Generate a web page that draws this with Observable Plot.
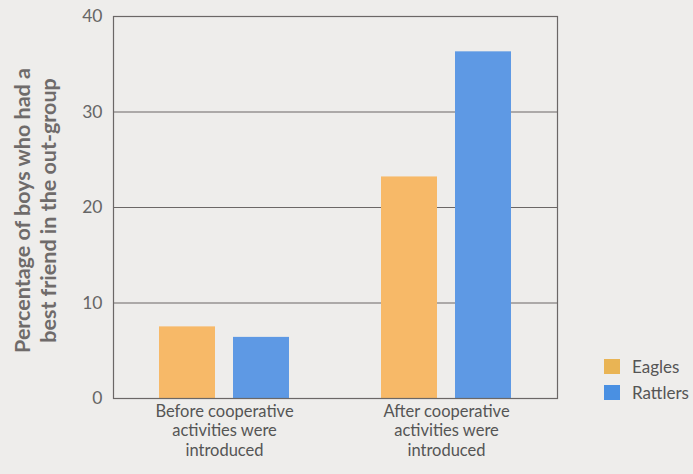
<!DOCTYPE html>
<html>
<head>
<meta charset="utf-8">
<script src="https://cdn.jsdelivr.net/npm/d3@7"></script>
<script src="https://cdn.jsdelivr.net/npm/@observablehq/plot@0.6"></script>
<style>
  html, body { margin: 0; padding: 0; background: #eeedeb; }
  #wrap { position: relative; width: 693px; height: 474px; font-family: Lato, sans-serif; }
  #legend { position: absolute; left: 604px; top: 353px; font-size: 17px; color: #555; }
  #legend .item { display: flex; align-items: center; height: 26px; }
  #legend .sw { width: 16px; height: 15px; margin-right: 12px; }
</style>
</head>
<body>
<div id="wrap"><div id="chart"></div><div id="legend"></div></div>
<script>
const groups = ["Before", "After"];
const groupLabels = ["Before cooperative\nactivities were\nintroduced", "After cooperative\nactivities were\nintroduced"];
const series = ["Eagles", "Rattlers"];
const eagles = [7.5, 23.2];
const rattlers = [6.4, 36.3];
const yTicks = [0, 10, 20, 30, 40];
const gridValues = [10, 20, 30, 40];
const colors = ["#f7b968", "#5e99e4"];
const swatchColors = ["#e9b454", "#4a90e2"];
const yLabel = "Percentage of boys who had a\nbest friend in the out-group";

const data = [];
groups.forEach((g, i) => {
  data.push({group: g, series: series[0], value: eagles[i]});
  data.push({group: g, series: series[1], value: rattlers[i]});
});

const chart = Plot.plot({
  width: 693,
  height: 474,
  marginLeft: 112,
  marginRight: 136,
  marginTop: 16,
  marginBottom: 76,
  style: {background: "transparent", fontFamily: "Lato, sans-serif"},
  fx: {domain: groups, padding: 0, label: null},
  x: {domain: series, paddingInner: 0.25, paddingOuter: 0.61, axis: null},
  y: {domain: [0, 40], label: null},
  color: {domain: series, range: colors},
  marks: [
    Plot.ruleY(gridValues, {stroke: "#6b6766", strokeWidth: 1.2}),
    Plot.barY(data, {fx: "group", x: "series", y: "value", fill: "series"}),
    Plot.frame({stroke: "#6b6766", strokeWidth: 1.2, facet: "super"}),
    Plot.axisY(yTicks, {tickSize: 0, tickPadding: 11, fontSize: 17.5, fill: "#666", label: null}),
    Plot.axisFx({anchor: "bottom", tickSize: 0, tickPadding: 4, fontSize: 16.5, fill: "#555", lineAnchor: "top", lineHeight: 1.2,
      tickFormat: d => groupLabels[groups.indexOf(d)], label: null}),
    Plot.text([yLabel], {facet: "super", frameAnchor: "left", dx: -79, dy: 3, rotate: -90, fontSize: 21.5, fontWeight: 700,
      fill: "#6f6b6a", textAnchor: "middle", lineAnchor: "middle", lineHeight: 1.2})
  ]
});
document.getElementById("chart").appendChild(chart);

const legend = document.getElementById("legend");
series.forEach((s, i) => {
  const item = document.createElement("div");
  item.className = "item";
  const sw = document.createElement("div");
  sw.className = "sw";
  sw.style.background = swatchColors[i];
  const t = document.createElement("span");
  t.textContent = s;
  item.appendChild(sw);
  item.appendChild(t);
  legend.appendChild(item);
});
</script>
</body>
</html>
